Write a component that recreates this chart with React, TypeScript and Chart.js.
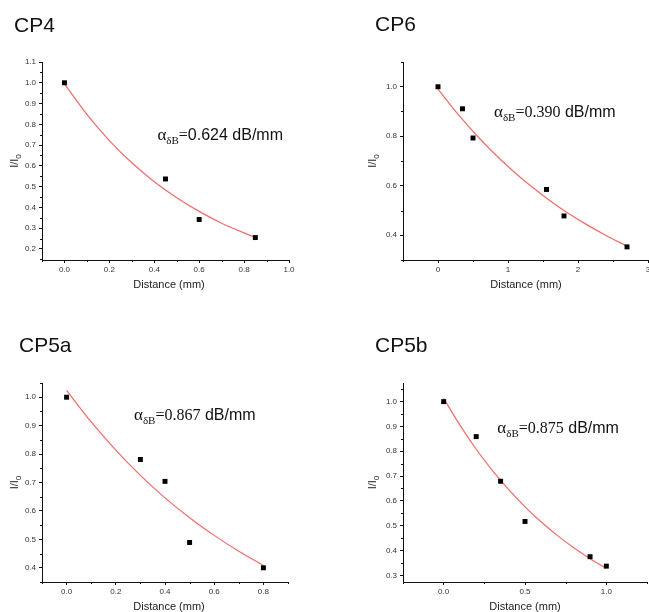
import React, { useEffect, useRef } from "react";
import { Chart, registerables } from "chart.js";

Chart.register(...registerables);

// ---------- CP4 ----------
const CP4_DIST = [0, 0.45, 0.6, 0.85];
const CP4_INT = [1.0, 0.537, 0.342, 0.255];
const CP4_FIT_DIST = [0, 0.1, 0.2, 0.3, 0.4, 0.5, 0.6, 0.7, 0.85];
const CP4_FIT_INT = [0.995, 0.848, 0.722, 0.615, 0.524, 0.447, 0.381, 0.324, 0.255];
const CP4_X_TICKS = [0, 0.2, 0.4, 0.6, 0.8, 1.0];
const CP4_X_LABELS = ["0.0", "0.2", "0.4", "0.6", "0.8", "1.0"];
const CP4_Y_TICKS = [0.2, 0.3, 0.4, 0.5, 0.6, 0.7, 0.8, 0.9, 1.0, 1.1];
const CP4_Y_LABELS = ["0.2", "0.3", "0.4", "0.5", "0.6", "0.7", "0.8", "0.9", "1.0", "1.1"];
const CP4_ALPHA = "0.624";

// ---------- CP6 ----------
const CP6_DIST = [0, 0.35, 0.5, 1.55, 1.8, 2.7];
const CP6_INT = [1.0, 0.911, 0.793, 0.585, 0.478, 0.353];
const CP6_FIT_DIST = [0, 0.3, 0.6, 0.9, 1.2, 1.5, 1.8, 2.1, 2.4, 2.7];
const CP6_FIT_INT = [0.99, 0.884, 0.789, 0.704, 0.628, 0.561, 0.5, 0.447, 0.399, 0.356];
const CP6_X_TICKS = [0, 1, 2, 3];
const CP6_X_LABELS = ["0", "1", "2", "3"];
const CP6_Y_TICKS = [0.4, 0.6, 0.8, 1.0];
const CP6_Y_LABELS = ["0.4", "0.6", "0.8", "1.0"];
const CP6_ALPHA = "0.390";

// ---------- CP5a ----------
const CP5A_DIST = [0, 0.3, 0.4, 0.5, 0.8];
const CP5A_INT = [1.0, 0.781, 0.704, 0.489, 0.4];
const CP5A_FIT_DIST = [0, 0.1, 0.2, 0.3, 0.4, 0.5, 0.6, 0.7, 0.8];
const CP5A_FIT_INT = [1.024, 0.913, 0.814, 0.725, 0.646, 0.576, 0.514, 0.458, 0.408];
const CP5A_X_TICKS = [0, 0.2, 0.4, 0.6, 0.8];
const CP5A_X_LABELS = ["0.0", "0.2", "0.4", "0.6", "0.8"];
const CP5A_Y_TICKS = [0.4, 0.5, 0.6, 0.7, 0.8, 0.9, 1.0];
const CP5A_Y_LABELS = ["0.4", "0.5", "0.6", "0.7", "0.8", "0.9", "1.0"];
const CP5A_ALPHA = "0.867";

// ---------- CP5b ----------
const CP5B_DIST = [0, 0.2, 0.35, 0.5, 0.9, 1.0];
const CP5B_INT = [1.0, 0.859, 0.679, 0.517, 0.375, 0.337];
const CP5B_FIT_DIST = [0, 0.1, 0.2, 0.3, 0.4, 0.5, 0.6, 0.7, 0.8, 0.9, 1.0];
const CP5B_FIT_INT = [1.013, 0.905, 0.808, 0.722, 0.645, 0.576, 0.515, 0.46, 0.411, 0.367, 0.328];
const CP5B_X_TICKS = [0, 0.5, 1.0];
const CP5B_X_LABELS = ["0.0", "0.5", "1.0"];
const CP5B_Y_TICKS = [0.3, 0.4, 0.5, 0.6, 0.7, 0.8, 0.9, 1.0];
const CP5B_Y_LABELS = ["0.3", "0.4", "0.5", "0.6", "0.7", "0.8", "0.9", "1.0"];
const CP5B_ALPHA = "0.875";

const SANS = '"Liberation Sans", Arial, sans-serif';
const SERIF = '"Liberation Serif", "Times New Roman", serif';

type Panel = {
  title: string;
  alpha: string;
  xs: number[];
  ys: number[];
  fx: number[];
  fy: number[];
  xTicks: number[];
  xLabels: string[];
  yTicks: number[];
  yLabels: string[];
  xMin: number;
  xMax: number;
  yMin: number;
  yMax: number;
  box: { cx: number; cy: number; cw: number; ch: number };
  area: { l: number; t: number; r: number; b: number };
  titlePos: [number, number];
  xTitlePos: [number, number];
  yTitleX: number;
  annot: [number, number];
  valueSerif: boolean;
};

const PANELS: Panel[] = [
  {
    title: "CP4", alpha: CP4_ALPHA, xs: CP4_DIST, ys: CP4_INT, fx: CP4_FIT_DIST, fy: CP4_FIT_INT,
    xTicks: CP4_X_TICKS, xLabels: CP4_X_LABELS, yTicks: CP4_Y_TICKS, yLabels: CP4_Y_LABELS,
    xMin: -0.1, xMax: 1.0, yMin: 0.147, yMax: 1.1,
    box: { cx: 0, cy: 0, cw: 324, ch: 306 },
    area: { l: 42, t: 62, r: 289, b: 260 },
    titlePos: [14, 31.5], xTitlePos: [169, 285], yTitleX: 14,
    annot: [0.414, 0.724], valueSerif: false,
  },
  {
    title: "CP6", alpha: CP6_ALPHA, xs: CP6_DIST, ys: CP6_INT, fx: CP6_FIT_DIST, fy: CP6_FIT_INT,
    xTicks: CP6_X_TICKS, xLabels: CP6_X_LABELS, yTicks: CP6_Y_TICKS, yLabels: CP6_Y_LABELS,
    xMin: -0.5, xMax: 3.0, yMin: 0.3, yMax: 1.1,
    box: { cx: 324, cy: 0, cw: 340, ch: 306 },
    area: { l: 403, t: 62, r: 648, b: 260 },
    titlePos: [375, 30.5], xTitlePos: [526, 285], yTitleX: 372,
    annot: [0.8, 0.876], valueSerif: true,
  },
  {
    title: "CP5a", alpha: CP5A_ALPHA, xs: CP5A_DIST, ys: CP5A_INT, fx: CP5A_FIT_DIST, fy: CP5A_FIT_INT,
    xTicks: CP5A_X_TICKS, xLabels: CP5A_X_LABELS, yTicks: CP5A_Y_TICKS, yLabels: CP5A_Y_LABELS,
    xMin: -0.1, xMax: 0.9, yMin: 0.35, yMax: 1.05,
    box: { cx: 0, cy: 306, cw: 324, ch: 306 },
    area: { l: 42, t: 383, r: 288, b: 582 },
    titlePos: [19, 351.5], xTitlePos: [169, 607], yTitleX: 14,
    annot: [0.274, 0.92], valueSerif: true,
  },
  {
    title: "CP5b", alpha: CP5B_ALPHA, xs: CP5B_DIST, ys: CP5B_INT, fx: CP5B_FIT_DIST, fy: CP5B_FIT_INT,
    xTicks: CP5B_X_TICKS, xLabels: CP5B_X_LABELS, yTicks: CP5B_Y_TICKS, yLabels: CP5B_Y_LABELS,
    xMin: -0.25, xMax: 1.25, yMin: 0.273, yMax: 1.075,
    box: { cx: 324, cy: 306, cw: 340, ch: 306 },
    area: { l: 403, t: 383, r: 647, b: 582 },
    titlePos: [375, 351.5], xTitlePos: [525, 607], yTitleX: 372,
    annot: [0.33, 0.875], valueSerif: true,
  },
];

function minorValues(ticks: number[], min: number, max: number): number[] {
  const out: number[] = [];
  if (ticks.length < 2) return out;
  const step = ticks[1] - ticks[0];
  const cands = [ticks[0] - step / 2];
  for (let i = 0; i < ticks.length - 1; i++) cands.push((ticks[i] + ticks[i + 1]) / 2);
  cands.push(ticks[ticks.length - 1] + step / 2);
  for (const v of cands) if (v >= min - 1e-9 && v <= max + 1e-9) out.push(v);
  return out;
}

function makeChart(canvas: HTMLCanvasElement, p: Panel): Chart {
  const { cx, cy, cw, ch } = p.box;
  const a = p.area;
  const textPlugin = {
    id: "panelText",
    afterDraw(chart: any) {
      const ctx: CanvasRenderingContext2D = chart.ctx;
      const xs = chart.scales.x;
      const ys = chart.scales.y;
      const ca = chart.chartArea;
      ctx.save();
      // minor ticks
      ctx.strokeStyle = "#111";
      ctx.lineWidth = 1;
      ctx.beginPath();
      for (const v of minorValues(p.xTicks, p.xMin, p.xMax)) {
        const px = Math.round(xs.getPixelForValue(v)) + 0.5;
        ctx.moveTo(px, ca.bottom);
        ctx.lineTo(px, ca.bottom + 2);
      }
      for (const v of minorValues(p.yTicks, p.yMin, p.yMax)) {
        const py = Math.round(ys.getPixelForValue(v)) + 0.5;
        ctx.moveTo(ca.left - 2, py);
        ctx.lineTo(ca.left, py);
      }
      ctx.stroke();

      // panel title
      ctx.fillStyle = "#111";
      ctx.textAlign = "left";
      ctx.textBaseline = "alphabetic";
      ctx.font = `21px ${SANS}`;
      ctx.fillText(p.title, p.titlePos[0] - cx, p.titlePos[1] - cy);

      // x axis title
      ctx.fillStyle = "#222";
      ctx.font = `11px ${SANS}`;
      ctx.textAlign = "center";
      ctx.textBaseline = "middle";
      ctx.fillText("Distance (mm)", p.xTitlePos[0] - cx, p.xTitlePos[1] - cy);

      // y axis title I/I0
      ctx.save();
      ctx.translate(p.yTitleX - cx, (ca.top + ca.bottom) / 2);
      ctx.rotate(-Math.PI / 2);
      ctx.textAlign = "left";
      ctx.textBaseline = "alphabetic";
      ctx.font = `11px ${SANS}`;
      const w1 = ctx.measureText("I/I").width;
      ctx.font = `8px ${SANS}`;
      const w2 = ctx.measureText("0").width;
      const start = -(w1 + w2) / 2;
      ctx.font = `11px ${SANS}`;
      ctx.fillText("I/I", start, 4);
      ctx.font = `8px ${SANS}`;
      ctx.fillText("0", start + w1, 7);
      ctx.restore();

      // annotation alpha_dB = value dB/mm
      let x = xs.getPixelForValue(p.annot[0]);
      const y = ys.getPixelForValue(p.annot[1]);
      ctx.fillStyle = "#111";
      ctx.textAlign = "left";
      ctx.textBaseline = "alphabetic";
      ctx.font = `17px ${SERIF}`;
      ctx.fillText("\u03B1", x, y);
      x += ctx.measureText("\u03B1").width;
      ctx.font = `11px ${SERIF}`;
      ctx.fillText("\u03B4B", x, y + 4);
      x += ctx.measureText("\u03B4B").width;
      ctx.font = `16px ${SERIF}`;
      ctx.fillText("=", x, y);
      x += ctx.measureText("=").width;
      ctx.font = `16px ${p.valueSerif ? SERIF : SANS}`;
      ctx.fillText(p.alpha, x, y);
      x += ctx.measureText(p.alpha).width;
      ctx.font = `16px ${SANS}`;
      ctx.fillText(" dB/mm", x, y);
      ctx.restore();
    },
  };

  const tickFont = { size: 8, family: SANS };
  return new Chart(canvas, {
    type: "scatter",
    data: {
      datasets: [
        {
          label: "data",
          data: p.xs.map((v, i) => ({ x: v, y: p.ys[i] })),
          pointStyle: "rect",
          pointRadius: 3.5,
          pointBackgroundColor: "#000",
          pointBorderWidth: 0,
          borderColor: "rgba(0,0,0,0)",
          showLine: false,
          order: 0,
        },
        {
          label: "fit",
          data: p.fx.map((v, i) => ({ x: v, y: p.fy[i] })),
          showLine: true,
          pointRadius: 0,
          borderColor: "rgb(245,105,105)",
          borderWidth: 1.2,
          cubicInterpolationMode: "monotone",
          fill: false,
          order: 1,
        },
      ],
    },
    options: {
      animation: false,
      responsive: false,
      maintainAspectRatio: false,
      events: [],
      layout: { padding: { left: 0, top: a.t - cy, right: cx + cw - a.r, bottom: 0 } },
      plugins: { legend: { display: false }, tooltip: { enabled: false }, title: { display: false } },
      scales: {
        x: {
          type: "linear",
          position: "bottom",
          min: p.xMin,
          max: p.xMax,
          afterBuildTicks: (s: any) => {
            s.ticks = p.xTicks.map((v) => ({ value: v }));
          },
          afterFit: (s: any) => {
            s.height = cy + ch - a.b;
            s.paddingLeft = 0;
            s.paddingRight = 0;
          },
          ticks: {
            callback: (v: any) => p.xLabels[p.xTicks.indexOf(Number(v))] ?? "",
            font: tickFont,
            color: "#333",
            padding: 2,
            maxRotation: 0,
            autoSkip: false,
          },
          grid: { drawOnChartArea: false, drawTicks: true, tickLength: 3, color: "#111", lineWidth: 1 },
          border: { display: true, color: "#111", width: 1 },
          title: { display: false },
        },
        y: {
          type: "linear",
          position: "left",
          min: p.yMin,
          max: p.yMax,
          afterBuildTicks: (s: any) => {
            s.ticks = p.yTicks.map((v) => ({ value: v }));
          },
          afterFit: (s: any) => {
            s.width = a.l - cx;
            s.paddingTop = 0;
            s.paddingBottom = 0;
          },
          ticks: {
            callback: (v: any) => p.yLabels[p.yTicks.indexOf(Number(v))] ?? "",
            font: tickFont,
            color: "#333",
            padding: 3,
            autoSkip: false,
          },
          grid: { drawOnChartArea: false, drawTicks: true, tickLength: 3, color: "#111", lineWidth: 1 },
          border: { display: true, color: "#111", width: 1 },
          title: { display: false },
        },
      },
    },
    plugins: [textPlugin],
  } as any);
}

export default function App() {
  const refs = useRef<(HTMLCanvasElement | null)[]>([]);
  useEffect(() => {
    const charts = PANELS.map((p, i) => makeChart(refs.current[i]!, p));
    return () => charts.forEach((c) => c.destroy());
  }, []);
  return (
    <div
      style={{
        position: "fixed",
        left: 0,
        top: 0,
        width: 649,
        height: 612,
        overflow: "hidden",
        background: "#fff",
      }}
    >
      {PANELS.map((p, i) => (
        <canvas
          key={p.title}
          ref={(el) => {
            refs.current[i] = el;
          }}
          width={p.box.cw}
          height={p.box.ch}
          style={{
            position: "absolute",
            left: p.box.cx,
            top: p.box.cy,
            width: p.box.cw,
            height: p.box.ch,
          }}
        />
      ))}
    </div>
  );
}
